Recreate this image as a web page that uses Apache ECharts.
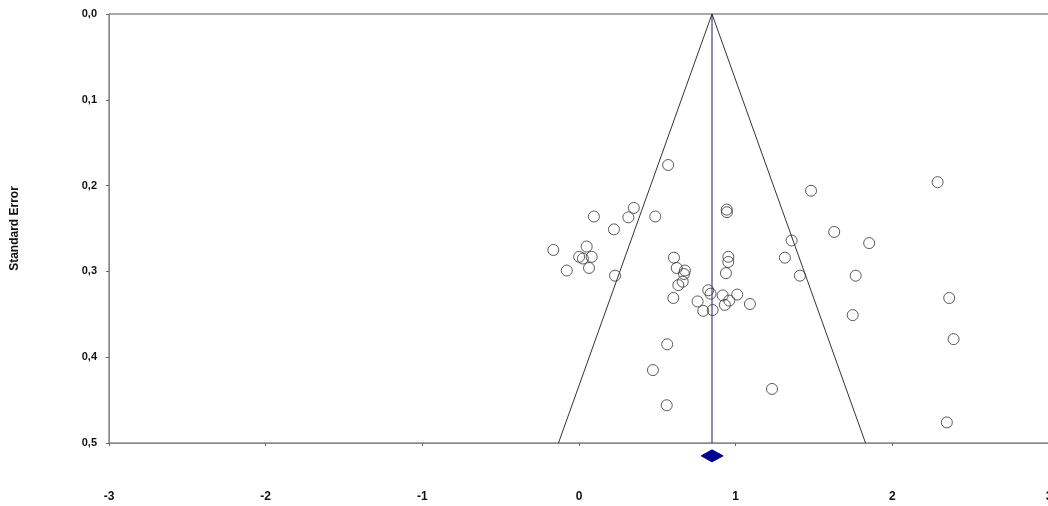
<!DOCTYPE html>
<html>
<head>
<meta charset="utf-8">
<script src="https://cdn.jsdelivr.net/npm/echarts@6/dist/echarts.min.js"></script>
<style>
html,body{margin:0;padding:0;background:#fff;}
#chart{width:1048px;height:506px;}
</style>
</head>
<body>
<div id="chart"></div>
<script>
// ---- data ----
const effectSizes = [
  0.569, 0.095, 0.350, 0.315, 0.487, 0.223, -0.164, 0.049, 0.001, 0.025,
  0.081, 0.064, -0.078, 0.230, 0.606, 0.624, 0.676, 0.670, 0.662, 0.634,
  0.602, 0.953, 0.953, 0.938, 0.825, 0.840, 0.917, 1.010, 0.757, 0.959,
  0.931, 1.091, 0.793, 0.853, 0.943, 0.944, 0.563, 0.472, 0.560, 1.232,
  1.481, 1.629, 1.852, 1.357, 1.314, 1.410, 1.766, 1.747, 2.289, 2.363,
  2.391, 2.348
];
const standardErrors = [
  0.176, 0.236, 0.226, 0.237, 0.236, 0.251, 0.275, 0.271, 0.283, 0.285,
  0.283, 0.296, 0.299, 0.305, 0.284, 0.296, 0.299, 0.303, 0.312, 0.316,
  0.331, 0.283, 0.289, 0.302, 0.322, 0.326, 0.328, 0.327, 0.335, 0.334,
  0.339, 0.338, 0.346, 0.345, 0.228, 0.231, 0.385, 0.415, 0.456, 0.437,
  0.206, 0.254, 0.267, 0.264, 0.284, 0.305, 0.305, 0.351, 0.196, 0.331,
  0.379, 0.476
];
const pooledEstimate = 0.849;
const pooledCI = [0.78, 0.92];
const funnelZ = 1.96;
const maxSE = 0.5;
const diamondSE = 0.515;
const xTickLabels = ['-3', '-2', '-1', '0', '1', '2', '3'];
const yTickLabels = ['0,0', '0,1', '0,2', '0,3', '0,4', '0,5'];
const yAxisTitle = 'Standard Error';

const points = effectSizes.map((x, i) => [x, standardErrors[i]]);
const funnel = [
  [pooledEstimate - funnelZ * maxSE, maxSE],
  [pooledEstimate, 0],
  [pooledEstimate + funnelZ * maxSE, maxSE]
];
const centerLine = [[pooledEstimate, 0], [pooledEstimate, maxSE]];

const font = '"Liberation Sans", Arial, sans-serif';
const chart = echarts.init(document.getElementById('chart'), null, {renderer: 'canvas'});
chart.setOption({
  animation: false,
  backgroundColor: '#ffffff',
  grid: {left: 109, width: 940, top: 14, height: 429, show: true, borderColor: '#555', borderWidth: 1,
         containLabel: false, outerBoundsMode: 'none'},
  xAxis: {
    type: 'value', min: -3, max: 3, interval: 1,
    axisLine: {show: true, onZero: false, lineStyle: {color: '#888', width: 1}},
    axisTick: {show: true, length: 3, lineStyle: {color: '#666'}},
    splitLine: {show: false},
    axisLabel: {
      margin: 48, color: '#111', fontWeight: 'bold', fontSize: 12, fontFamily: font,
      formatter: (v) => xTickLabels[Math.round(v) + 3]
    }
  },
  yAxis: {
    type: 'value', inverse: true, min: 0, max: 0.5, interval: 0.1,
    name: yAxisTitle, nameLocation: 'middle', nameGap: 88, nameRotate: 90,
    nameTextStyle: {color: '#111', fontWeight: 'bold', fontSize: 12, fontFamily: font},
    axisLine: {show: true, onZero: false, lineStyle: {color: '#888', width: 1}},
    axisTick: {show: true, length: 3, lineStyle: {color: '#666'}},
    splitLine: {show: false},
    axisLabel: {
      margin: 12, color: '#111', fontWeight: 'bold', fontSize: 11, fontFamily: font,
      formatter: (v) => yTickLabels[Math.round(v * 10)]
    }
  },
  series: [
    {
      type: 'line', data: funnel, symbol: 'none', silent: true,
      lineStyle: {color: '#333', width: 1}, z: 2
    },
    {
      type: 'line', data: centerLine, symbol: 'none', silent: true,
      lineStyle: {color: '#1c1c6a', width: 1}, z: 2
    },
    {
      type: 'scatter', data: points, symbol: 'circle', symbolSize: 11,
      itemStyle: {color: 'rgba(0,0,0,0)', borderColor: '#333', borderWidth: 1}, z: 3
    },
    {
      type: 'custom', clip: false, silent: true, z: 4,
      data: [[pooledCI[0], pooledCI[1], pooledEstimate, diamondSE]],
      renderItem: function (params, api) {
        const lo = api.coord([api.value(0), api.value(3)]);
        const hi = api.coord([api.value(1), api.value(3)]);
        const mid = api.coord([api.value(2), api.value(3)]);
        const h = 6;
        return {
          type: 'polygon',
          shape: {points: [[lo[0], mid[1]], [mid[0], mid[1] - h], [hi[0], mid[1]], [mid[0], mid[1] + h]]},
          style: {fill: '#00008f', stroke: '#00008f'}
        };
      }
    }
  ]
});
</script>
</body>
</html>
